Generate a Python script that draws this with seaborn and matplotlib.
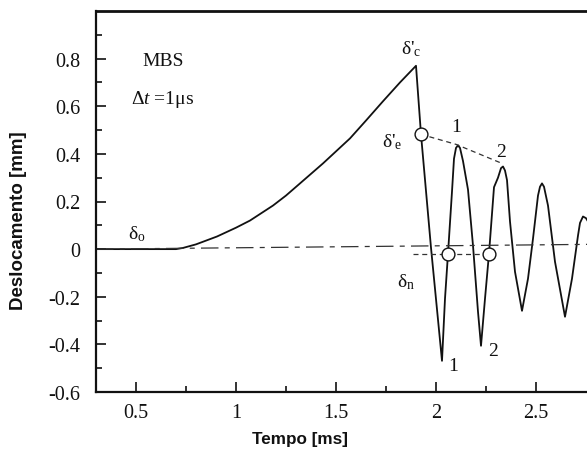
import matplotlib
matplotlib.use("Agg")
import matplotlib.pyplot as plt
import seaborn as sns
import pandas as pd
from matplotlib.ticker import FixedLocator, FixedFormatter

# Displacement record of the specimen (time in ms, displacement in mm)
time_ms = [0.30, 0.50, 0.70, 0.735, 0.80, 0.905, 1.00, 1.07, 1.185, 1.25, 1.32,
           1.435, 1.57, 1.65, 1.735, 1.82, 1.90, 1.925, 1.975, 2.03, 2.045,
           2.06, 2.08, 2.09, 2.10, 2.11, 2.12, 2.135, 2.16, 2.185, 2.21, 2.225,
           2.245, 2.265, 2.29, 2.31, 2.325, 2.335, 2.345, 2.355, 2.37, 2.395, 2.43,
           2.46, 2.485, 2.51, 2.52, 2.53, 2.54, 2.56, 2.595, 2.645, 2.68, 2.71,
           2.72, 2.735, 2.75, 2.76]
displacement = [0.0, 0.0, 0.0, 0.005, 0.02, 0.053, 0.09, 0.12, 0.183, 0.225, 0.276,
                0.36, 0.465, 0.54, 0.621, 0.70, 0.77, 0.482, 0.006, -0.469, -0.208,
                -0.019, 0.242, 0.38, 0.425, 0.436, 0.425, 0.37, 0.25, 0.015, -0.263,
                -0.406, -0.208, -0.019, 0.26, 0.30, 0.34, 0.347, 0.33, 0.29, 0.116,
                -0.095, -0.259, -0.124, 0.044, 0.225, 0.262, 0.276, 0.262, 0.183,
                -0.053, -0.284, -0.124, 0.057, 0.11, 0.137, 0.13, 0.116]

# Reference lines
baseline_t = [0.30, 2.76]
baseline_y = [0.0, 0.02]
elastic_t = [1.925, 2.10, 2.33]
elastic_y = [0.482, 0.44, 0.36]
dn_t = [1.885, 2.27]
dn_y = [-0.02, -0.02]
circle_t = [1.925, 2.06, 2.265]
circle_y = [0.482, -0.02, -0.02]

x_ticks = [0.5, 1.0, 1.5, 2.0, 2.5]
x_tick_labels = ["0.5", "1", "1.5", "2", "2.5"]
y_ticks = [-0.6, -0.4, -0.2, 0.0, 0.2, 0.4, 0.6, 0.8]
y_tick_labels = ["-0.6", "-0.4", "-0.2", "0", "0.2", "0.4", "0.6", "0.8"]

sns.set_style("ticks")
plt.rcParams["font.family"] = ["Liberation Serif", "DejaVu Serif"]
plt.rcParams["mathtext.fontset"] = "custom"
plt.rcParams["mathtext.rm"] = "Liberation Serif"
plt.rcParams["mathtext.it"] = "Liberation Serif:italic"

ink = "#111111"
fig = plt.figure(figsize=(5.87, 4.52), dpi=100)
ax = fig.add_axes([96 / 587, 59 / 452, 492 / 587, 381 / 452])

curve = pd.DataFrame({"t": time_ms, "d": displacement})
sns.lineplot(data=curve, x="t", y="d", ax=ax, color=ink, lw=1.3, sort=False,
             estimator=None)

ax.plot(baseline_t, baseline_y, color="#333333", lw=0.9, dashes=(14, 5, 4, 5))
ax.plot(elastic_t, elastic_y, color="#333333", lw=0.9, dashes=(4, 3))
ax.plot(dn_t, dn_y, color="#333333", lw=0.9, dashes=(4, 3))
sns.scatterplot(x=circle_t, y=circle_y, ax=ax, s=85, facecolor="white",
                edgecolor=ink, linewidth=1.0, zorder=5)

ax.set_xlim(0.30, 2.76)
ax.set_ylim(-0.6, 1.0)
ax.xaxis.set_major_locator(FixedLocator(x_ticks))
ax.xaxis.set_major_formatter(FixedFormatter(x_tick_labels))
ax.xaxis.set_minor_locator(FixedLocator([0.75, 1.25, 1.75, 2.25]))
ax.yaxis.set_major_locator(FixedLocator(y_ticks))
ax.yaxis.set_major_formatter(FixedFormatter(y_tick_labels))
ax.yaxis.set_minor_locator(FixedLocator([-0.5, -0.3, -0.1, 0.1, 0.3, 0.5, 0.7, 0.9]))

ax.tick_params(axis="both", which="major", direction="in", length=7, width=1.2,
               labelsize=14.5, colors=ink)
ax.tick_params(axis="both", which="minor", direction="in", length=4.5, width=1.2,
               colors=ink)
ax.tick_params(axis="y", which="major", pad=11)
ax.tick_params(axis="x", which="major", pad=8)

for side in ["left", "bottom"]:
    ax.spines[side].set_linewidth(1.6)
    ax.spines[side].set_color(ink)
ax.spines["top"].set_linewidth(2.0)
ax.spines["top"].set_color(ink)
ax.spines["right"].set_visible(False)

ax.set_xlabel("Tempo [ms]", family="Liberation Sans", weight="bold", size=12.3,
              color=ink)
ax.set_ylabel("Deslocamento [mm]", family="Liberation Sans", weight="bold",
              size=13.5, color=ink)
ax.xaxis.set_label_coords(0.415, -0.103)
ax.yaxis.set_label_coords(-0.14, 0.451)

txt = dict(color=ink, fontsize=14, ha="center", va="center")
ax.text(0.635, 0.794, "MBS", **txt)
ax.text(0.635, 0.634, r"Δ$t$ =1μs", **txt)
ax.text(1.878, 0.845, r"δ'$_{\mathrm{c}}$", **txt)
ax.text(1.782, 0.455, r"δ'$_{\mathrm{e}}$", **txt)
ax.text(0.502, 0.068, r"δ$_{\mathrm{o}}$", **txt)
ax.text(1.848, -0.135, r"δ$_{\mathrm{n}}$", **txt)
ax.text(2.10, 0.516, "1", **txt)
ax.text(2.325, 0.41, "2", **txt)
ax.text(2.085, -0.49, "1", **txt)
ax.text(2.285, -0.427, "2", **txt)

fig.savefig("out.png", dpi=100, facecolor="white")
